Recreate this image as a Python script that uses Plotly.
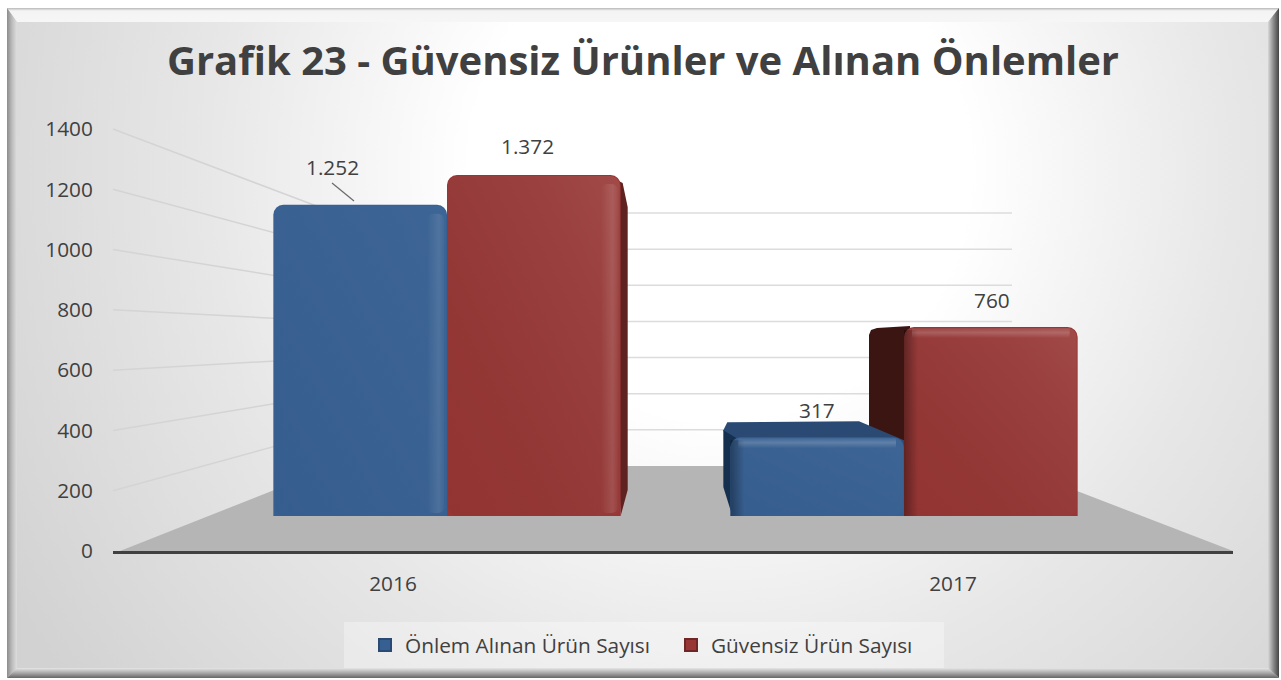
import base64
import plotly.graph_objects as go

# ---- data ----
categories = ["2016", "2017"]
series_names = ["Önlem Alınan Ürün Sayısı", "Güvensiz Ürün Sayısı"]
onlem_values = [1252, 317]
guvensiz_values = [1372, 760]
onlem_labels = ["1.252", "317"]
guvensiz_labels = ["1.372", "760"]
axis_ticks = [0, 200, 400, 600, 800, 1000, 1200, 1400]
title_text = "Grafik 23 - Güvensiz Ürünler ve Alınan Önlemler"

W, H = 1281, 680
TXT = "#404040"
FONT = "Open Sans"
BLUE, RED = "#376092", "#973634"


def uri(svg):
    return "data:image/svg+xml;base64," + base64.b64encode(svg.encode()).decode()


def px(x):
    return x / W


def py(y):
    return 1 - y / H


# ---- geometry of the two planes (front axis frame / bar plane) ----
AX_L, AX_R, AX_B, AX_T = 113, 1233, 551, 129
BAR_B, BAR_T = 516, 129
BAR_SCALE = (516 - 175) / 1372       # px per unit on the bar plane
CAT_STEP = 457                       # px between the bar groups
BAR_CX0 = 447
bar_dom_l = BAR_CX0 - CAT_STEP / 2
bar_dom_r = bar_dom_l + 2 * CAT_STEP
GROUP_FRAC = 0.76
BW = GROUP_FRAC / 2


def dx(p):
    return p / CAT_STEP


def dy(p):
    return p / BAR_SCALE


# ---- page background with bevelled frame ----
bg_svg = f"""<svg xmlns='http://www.w3.org/2000/svg' width='{W}' height='{H}' viewBox='0 0 {W} {H}'>
<defs>
<radialGradient id='g' gradientUnits='userSpaceOnUse' cx='720' cy='170' r='830'>
<stop offset='0.3' stop-color='#ffffff'/><stop offset='0.62' stop-color='#e7e7e7'/><stop offset='1' stop-color='#d2d2d2'/></radialGradient>
<linearGradient id='t' gradientUnits='userSpaceOnUse' x1='0' y1='8' x2='0' y2='22'>
<stop offset='0' stop-color='#b8b8b8'/><stop offset='0.2' stop-color='#f4f4f4'/><stop offset='1' stop-color='#f6f6f6'/></linearGradient>
<linearGradient id='l' gradientUnits='userSpaceOnUse' x1='7' y1='0' x2='17' y2='0'>
<stop offset='0' stop-color='#8c8c8c'/><stop offset='0.5' stop-color='#bcbcbc'/><stop offset='1' stop-color='#dedede'/></linearGradient>
<linearGradient id='r' gradientUnits='userSpaceOnUse' x1='1268' y1='0' x2='1279' y2='0'>
<stop offset='0' stop-color='#d8d8d8'/><stop offset='0.5' stop-color='#8a8a8a'/><stop offset='1' stop-color='#444444'/></linearGradient>
<linearGradient id='b' gradientUnits='userSpaceOnUse' x1='0' y1='668' x2='0' y2='678'>
<stop offset='0' stop-color='#e6e6e6'/><stop offset='0.5' stop-color='#a8a8a8'/><stop offset='1' stop-color='#666666'/></linearGradient>
</defs>
<rect width='{W}' height='{H}' fill='#ffffff'/>
<rect x='7' y='8' width='1272' height='670' fill='url(#g)'/>
<polygon points='7,8 1279,8 1268,22 17,22' fill='url(#t)'/>
<polygon points='7,8 17,22 17,668 7,678' fill='url(#l)'/>
<polygon points='1279,8 1268,22 1268,668 1279,678' fill='url(#r)'/>
<polygon points='7,678 17,668 1268,668 1279,678' fill='url(#b)'/>
</svg>"""

images = [dict(source=uri(bg_svg), xref="paper", yref="paper", x=0, y=1, sizex=1, sizey=1,
               xanchor="left", yanchor="top", sizing="stretch", layer="below")]


# ---- translucent shading that sits on each bar face ----
def face_overlay(i_cat, side, value):
    w = BW * CAT_STEP
    h = value * BAR_SCALE
    hi = "#ffffff"
    diag = 0.03 if side == 0 else 0.10
    strip = 0.10 if side == 0 else 0.11
    parts = [f"<rect x='1' y='1' width='{w-2:.1f}' height='{h-1:.1f}' rx='9' fill='url(#d)'/>"]
    if i_cat == 0:
        parts.append(f"<rect x='{w-20:.1f}' y='9' width='17' height='{h-12:.1f}' rx='6' fill='url(#s)'/>")
    else:
        parts.append(f"<rect x='8' y='1' width='{w-16:.1f}' height='10' fill='url(#tp)'/>")
        parts.append(f"<rect x='0' y='3' width='14' height='{h-3:.1f}' fill='url(#e)'/>")
    svg = f"""<svg xmlns='http://www.w3.org/2000/svg' width='{w:.1f}' height='{h:.1f}' viewBox='0 0 {w:.1f} {h:.1f}'>
<defs>
<linearGradient id='d' x1='0' y1='1' x2='1' y2='0'>
<stop offset='0' stop-color='#000000' stop-opacity='0.03'/><stop offset='1' stop-color='{hi}' stop-opacity='{diag}'/></linearGradient>
<linearGradient id='s' x1='0' y1='0' x2='1' y2='0'>
<stop offset='0' stop-color='{hi}' stop-opacity='0'/><stop offset='0.7' stop-color='{hi}' stop-opacity='{strip}'/><stop offset='1' stop-color='{hi}' stop-opacity='0.03'/></linearGradient>
<linearGradient id='tp' x1='0' y1='0' x2='0' y2='1'>
<stop offset='0' stop-color='{hi}' stop-opacity='0.04'/><stop offset='0.45' stop-color='{hi}' stop-opacity='0.18'/><stop offset='1' stop-color='{hi}' stop-opacity='0'/></linearGradient>
<linearGradient id='e' x1='0' y1='0' x2='1' y2='0'>
<stop offset='0' stop-color='#000000' stop-opacity='0.35'/><stop offset='1' stop-color='#000000' stop-opacity='0'/></linearGradient>
</defs>{''.join(parts)}</svg>"""
    left = i_cat - BW if side == 0 else i_cat
    return dict(source=uri(svg), xref="x2", yref="y2", x=left, y=value, sizex=BW, sizey=value,
                xanchor="left", yanchor="top", sizing="stretch", layer="above")


for i in range(len(categories)):
    images.append(face_overlay(i, 0, onlem_values[i]))
    images.append(face_overlay(i, 1, guvensiz_values[i]))

# ---- decorative planes drawn beneath the bars ----
shapes = []


def paper_line(x0, y0, x1, y1, color, width):
    shapes.append(dict(type="line", xref="paper", yref="paper", x0=px(x0), y0=py(y0), x1=px(x1), y1=py(y1),
                       line=dict(color=color, width=width), layer="below"))


shapes.append(dict(type="path", xref="paper", yref="paper",
                   path=f"M{px(120)},{py(551)} L{px(1233)},{py(551)} L{px(1012)},{py(466)} L{px(335)},{py(466)} Z",
                   fillcolor="#b5b5b5", line=dict(width=0), layer="below"))
BACK_B, BACK_T = 466, 213
for t in axis_ticks[1:]:
    fy = AX_B - t * (AX_B - AX_T) / axis_ticks[-1]
    by = BACK_B - t * (BACK_B - BACK_T) / axis_ticks[-1]
    paper_line(113, fy, 335, by, "#d4d4d4", 1.5)
    paper_line(335, by, 1012, by, "#dcdcdc", 1.5)


def data_path(points, fill):
    d = "M" + " L".join(f"{x:.5f},{y:.3f}" for x, y in points) + " Z"
    shapes.append(dict(type="path", xref="x2", yref="y2", path=d, fillcolor=fill, line=dict(width=0), layer="below"))


# right side of the 2016 red bar
v = guvensiz_values[0]
r = BW
data_path([(r - dx(14), v), (r + dx(2), v - dy(8)), (r + dx(7), v - dy(32)), (r + dx(7), dy(26)), (r, 0)], "#5e2220")
# left side of the 2017 red bar
v = guvensiz_values[1]
data_path([(1 - dx(35), v - dy(8)), (1 - dx(33), v - dy(3)), (1 - dx(27), v - dy(1)), (1 + dx(6), v + dy(1)),
           (1 + dx(6), 0), (1, 0), (1 - dx(35), dy(45))], "#3b1512")
# top and left side of the 2017 blue bar
v = onlem_values[1]
data_path([(1 - BW - dx(7), v + dy(7)), (1 - BW - dx(3), v + dy(15)), (1 - dx(45), v + dy(16)), (1, v - dy(3)),
           (1, v - dy(10)), (1 - BW, v - dy(10))], "#2b4a73")
data_path([(1 - BW - dx(7), v + dy(7)), (1 - BW + dx(8), v - dy(2)), (1 - BW + dx(8), 0), (1 - BW + dx(2), 0),
           (1 - BW - dx(7), dy(29))], "#15304f")

# legend plate and the 1.252 leader line
shapes.append(dict(type="rect", xref="paper", yref="paper", x0=px(344), x1=px(944), y0=py(622), y1=py(668),
                   fillcolor="rgba(255,255,255,0.32)", line=dict(width=0), layer="below"))
shapes.append(dict(type="line", xref="paper", yref="paper", x0=px(332), y0=py(183), x1=px(354), y1=py(201),
                   line=dict(color="#6a6a6a", width=1.2), layer="above"))

# ---- figure ----
fig = go.Figure()
fig.add_trace(go.Scatter(x=categories, y=[None, None], xaxis="x", yaxis="y", mode="lines",
                         showlegend=False, hoverinfo="skip"))
x_pos = list(range(len(categories)))
fig.add_trace(go.Bar(x=x_pos, y=onlem_values, name=series_names[0], xaxis="x2", yaxis="y2", legendgroup="a",
                     showlegend=False, marker=dict(color=BLUE, line=dict(width=0))))
fig.add_trace(go.Bar(x=x_pos, y=guvensiz_values, name=series_names[1], xaxis="x2", yaxis="y2", legendgroup="b",
                     showlegend=False, marker=dict(color=RED, line=dict(width=0))))
# legend keys: square swatches with a darker rim
fig.add_trace(go.Bar(x=[categories[0]], y=[None], name=series_names[0], xaxis="x", yaxis="y", legendgroup="a",
                     marker=dict(color=BLUE, cornerradius=0, line=dict(color="#2b4a73", width=2))))
fig.add_trace(go.Bar(x=[categories[0]], y=[None], name=series_names[1], xaxis="x", yaxis="y", legendgroup="b",
                     marker=dict(color=RED, cornerradius=0, line=dict(color="#6e2726", width=2))))

FS = 20.8
label_font = dict(family=FONT, size=FS, color=TXT)
label_shift = [(-28, 38), (-6, 29), (0, 27), (1, 27)]
annotations = []
pairs = [(0, -BW / 2, onlem_values[0], onlem_labels[0]), (0, BW / 2, guvensiz_values[0], guvensiz_labels[0]),
         (1, -BW / 2, onlem_values[1], onlem_labels[1]), (1, BW / 2, guvensiz_values[1], guvensiz_labels[1])]
for (c, off, val, lab), (sx, sy) in zip(pairs, label_shift):
    annotations.append(dict(xref="x2", yref="y2", x=c + off, y=val, text=lab, showarrow=False, font=label_font,
                            xshift=sx, yshift=sy, xanchor="center", yanchor="middle"))

fig.update_layout(
    width=W, height=H, autosize=False,
    margin=dict(l=0, r=0, t=0, b=0, pad=0, autoexpand=False),
    paper_bgcolor="#ffffff", plot_bgcolor="rgba(0,0,0,0)",
    font=dict(family=FONT, size=FS, color=TXT),
    title=dict(text=f"<b>{title_text}</b>", x=(168 + 1118) / 2 / W, xanchor="center", y=py(61), yanchor="middle",
               font=dict(family=FONT, size=40, color=TXT)),
    barmode="group", bargap=1 - GROUP_FRAC, bargroupgap=0, barcornerradius=10,
    xaxis=dict(domain=[px(AX_L), px(AX_R)], type="category", range=[-0.5, 1.5], showgrid=False, zeroline=False,
               showline=True, linecolor="#404040", linewidth=3, ticks="outside", ticklen=12,
               tickcolor="rgba(0,0,0,0)", tickfont=dict(family=FONT, size=FS, color=TXT), anchor="y",
               automargin=False),
    yaxis=dict(domain=[py(AX_B), py(AX_T)], range=[0, 1400], tickvals=axis_ticks, showgrid=False, zeroline=False,
               showline=False, ticks="outside", ticklen=15, tickcolor="rgba(0,0,0,0)",
               tickfont=dict(family=FONT, size=FS, color=TXT), anchor="x", automargin=False),
    xaxis2=dict(domain=[px(bar_dom_l), px(bar_dom_r)], range=[-0.5, 1.5], visible=False, anchor="y2"),
    yaxis2=dict(domain=[py(BAR_B), py(BAR_T)], range=[0, (BAR_B - BAR_T) / BAR_SCALE], visible=False, anchor="x2"),
    legend=dict(orientation="h", xref="container", yref="container", x=px(365), y=py(625), xanchor="left",
                yanchor="top", bgcolor="rgba(0,0,0,0)", entrywidth=261, entrywidthmode="pixels",
                font=dict(family=FONT, size=FS, color=TXT)),
    images=images, shapes=shapes, annotations=annotations,
)

fig.write_html("out.html", config=dict(displayModeBar=False),
               post_script="document.body.style.margin='0';document.body.style.overflow='hidden';")
